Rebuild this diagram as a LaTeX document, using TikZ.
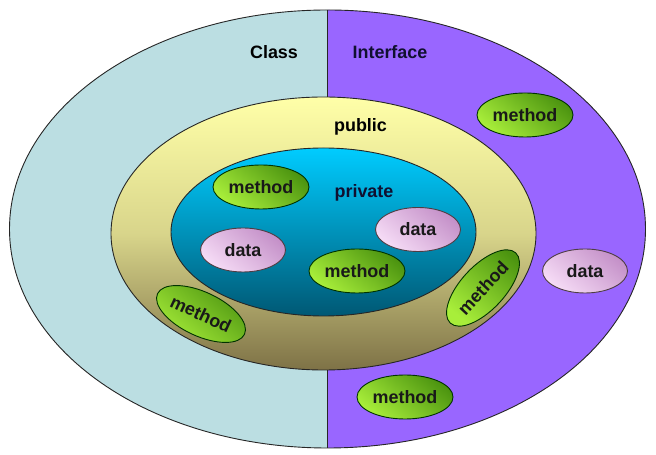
\documentclass[tikz,border=0pt]{standalone}
\usepackage{fontspec}
\setmainfont{Liberation Sans}
\usetikzlibrary{shapes.geometric}
\definecolor{classblue}{HTML}{BBDEE2}
\definecolor{ifacepurple}{HTML}{9966FF}
\definecolor{pubtop}{HTML}{FFFFA8}
\definecolor{pubbot}{HTML}{7E7246}
\definecolor{privtop}{HTML}{00CCFF}
\definecolor{privbot}{HTML}{005874}
\definecolor{methdark}{HTML}{4C9410}
\definecolor{methlight}{HTML}{A8EE3A}
\definecolor{datadark}{HTML}{C490C8}
\definecolor{datalight}{HTML}{F6DCF6}
\definecolor{inktext}{HTML}{101030}
\tikzset{
  outline/.style={draw=black!85, line width=0.9bp},
  blob/.style={shape=ellipse, inner sep=0pt, outline, draw=black!80!green,
    font=\bfseries\fontsize{18}{18}\selectfont, text=black!90},
  methodbox/.style={blob, minimum width=96bp, minimum height=44bp,
    top color=methdark, bottom color=methlight, shading angle=-40},
  databox/.style={blob, minimum width=85bp, minimum height=44bp, draw=black!80!magenta,
    top color=datadark, bottom color=datalight, shading angle=-40},
  caption/.style={font=\bfseries\fontsize{18}{18}\selectfont, inner sep=0pt}
}
\begin{document}
\begin{tikzpicture}[x=1bp,y=1bp]
\useasboundingbox (0,0) rectangle (656,455);
\fill[white] (0,0) rectangle (656,455);

% outer ellipse split into class / interface halves
\begin{scope}
  \clip (327.5,226) ellipse [x radius=318, y radius=219];
  \fill[classblue] (0,0) rectangle (327.5,455);
  \fill[ifacepurple] (327.5,0) rectangle (656,455);
\end{scope}
\draw[outline] (327.5,226) ellipse [x radius=318, y radius=219];
\coordinate (divtop) at (327.5,445);
\coordinate (divbot) at (327.5,7);
\draw[outline] (divtop) -- (divbot);

% public and private zones
\shade[top color=pubtop, bottom color=pubbot, middle color=pubtop!70!pubbot]
  (323.5,221.5) ellipse [x radius=212.5, y radius=136.5];
\draw[outline] (323.5,221.5) ellipse [x radius=212.5, y radius=136.5];
\shade[top color=privtop, bottom color=privbot]
  (323.5,223) ellipse [x radius=152.5, y radius=84];
\draw[outline] (323.5,223) ellipse [x radius=152.5, y radius=84];

% zone labels
\node[caption, text=black] (cls) at (274,403) {Class};
\node[caption, text=inktext] (ifc) at (390,403) {Interface};
\node[caption, text=black] (pub) at (360.5,328) {public};
\node[caption, text=inktext] (prv) at (364,262) {private};

% members
\node[methodbox] (m1) at (525,340) {method};
\node[methodbox] (m2) at (261,268) {method};
\node[databox]   (d1) at (418,225.5) {data};
\node[databox]   (d2) at (243,205) {data};
\node[methodbox] (m3) at (357,184) {method};
\node[methodbox, rotate=-25] (m4) at (201,141) {method};
\node[methodbox, rotate=47] (m5) at (483,167) {method};
\node[databox]   (d3) at (585,184) {data};
\node[methodbox] (m6) at (405,58) {method};
\end{tikzpicture}
\end{document}
